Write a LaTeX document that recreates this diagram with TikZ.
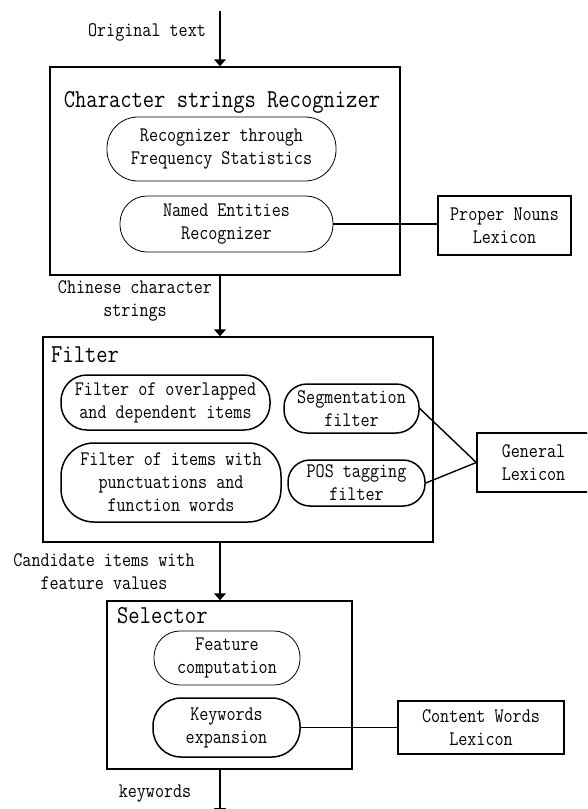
\documentclass[tikz,border=0pt]{standalone}
\usepackage{fontspec}
\newfontfamily\simfont{Latin Modern Mono}[FakeStretch=0.85]
\usetikzlibrary{arrows.meta}
\begin{document}
\begin{tikzpicture}[x=1pt,y=-1pt,
  body/.style={font=\fontsize{20.7}{23}\selectfont\simfont, align=center, inner sep=0pt},
  ttl/.style={font=\fontsize{25.8}{28}\selectfont\simfont, inner sep=0pt},
  frame/.style={draw, line width=1.5pt, inner sep=0pt},
  lexbox/.style={draw, line width=1.4pt, body},
  thinpill/.style={draw, line width=0.8pt, body},
  thickpill/.style={draw, line width=1.5pt, body},
  arr/.style={line width=1.5pt, -{Triangle[width=12pt,length=7pt]}},
  conn/.style={line width=1.4pt}
]
\path[use as bounding box, clip] (0,0) rectangle (587,809);

% ---- stage 1
\coordinate (in) at (220,11);
\node[body] (ot) at (147,32) {Original text};
\node[frame, minimum width=350pt, minimum height=208pt] (b1) at (225,171) {};
\node[ttl] (t1) at (222,102) {Character strings Recognizer};
\node[thinpill, minimum width=229pt, minimum height=64pt, rounded corners=31pt] (rfs) at (221.5,149) {Recognizer through\\Frequency Statistics};
\node[thinpill, minimum width=213pt, minimum height=56pt, rounded corners=27pt] (ner) at (226.5,224) {Named Entities\\Recognizer};
\node[lexbox, minimum width=133pt, minimum height=59pt] (pn) at (504.5,225.5) {Proper Nouns\\Lexicon};
\draw[arr] (in) -- (in |- b1.north);
\draw[conn] (ner.east) -- (ner.east -| pn.west);

% ---- stage 2
\node[body] (ccs) at (135,301) {Chinese character\\strings};
\node[frame, minimum width=390pt, minimum height=205pt] (b2) at (238,439.5) {};
\node[ttl, anchor=west] (t2) at (51,355) {Filter};
\node[thickpill, minimum width=209pt, minimum height=55pt, rounded corners=26pt] (fo) at (165.5,402.5) {Filter of overlapped\\and dependent items};
\node[thickpill, minimum width=135pt, minimum height=49pt, rounded corners=23pt] (seg) at (351.5,408.5) {Segmentation\\filter};
\node[thickpill, minimum width=220pt, minimum height=79pt, rounded corners=33pt] (fi) at (171,482.5) {Filter of items with\\punctuations and\\function words};
\node[thickpill, minimum width=137pt, minimum height=46pt, rounded corners=22pt] (pos) at (356.5,483) {POS tagging\\filter};
\node[lexbox, minimum width=113pt, minimum height=59pt] (gl) at (533.5,462.5) {General\\Lexicon};
\draw[arr] (b1.south -| in) -- (b2.north -| in);
\draw[conn] (seg.east) -- (gl.west);
\draw[conn] (pos.east) -- (gl.west);

% ---- stage 3
\node[body] (civ) at (104,572) {Candidate items with\\feature values};
\node[frame, minimum width=245pt, minimum height=168pt] (b3) at (229.5,685) {};
\node[ttl, anchor=west] (t3) at (117,616) {Selector};
\node[thinpill, minimum width=146pt, minimum height=54pt, rounded corners=26pt] (fc) at (227,658) {Feature\\computation};
\node[thickpill, minimum width=147pt, minimum height=59pt, rounded corners=28pt] (ke) at (226.5,727.5) {Keywords\\expansion};
\node[lexbox, minimum width=166pt, minimum height=53pt] (cw) at (481,727.5) {Content Words\\Lexicon};
\draw[arr] (b2.south -| in) -- (b3.north -| in);
\draw[conn] (ke.east) -- (ke.east -| cw.west);

% ---- output
\coordinate (out) at (220,815);
\node[body] (kw) at (155,794) {keywords};
\draw[arr] (b3.south -| in) -- (out);
\end{tikzpicture}
\end{document}
